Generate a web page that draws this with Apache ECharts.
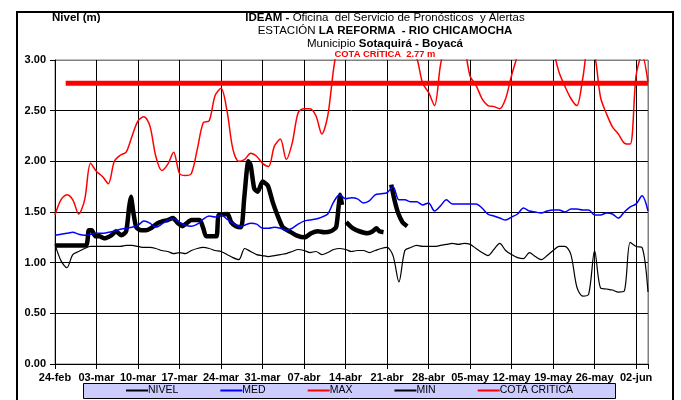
<!DOCTYPE html>
<html>
<head>
<meta charset="utf-8">
<script src="https://cdn.jsdelivr.net/npm/echarts@6/dist/echarts.min.js"></script>
<style>
  html, body { margin: 0; padding: 0; background: #fff; }
  #chart { width: 681px; height: 400px; }
</style>
</head>
<body>
<div id="chart"></div>
<script>
// eje x: un dato por día desde 24-feb (día 0) hasta 04-jun (día 100)
const tickLabels = ['24-feb', '03-mar', '10-mar', '17-mar', '24-mar', '31-mar', '07-abr', '14-abr',
  '21-abr', '28-abr', '05-may', '12-may', '19-may', '26-may', '02-jun'];

const medValues = [
  1.27, 1.28, 1.29, 1.30, 1.28, 1.27, 1.28, 1.29, 1.29, 1.30,
  1.31, 1.33, 1.34, 1.35, 1.37, 1.41, 1.39, 1.35, 1.38, 1.42,
  1.43, 1.40, 1.37, 1.36, 1.38, 1.43, 1.46, 1.45, 1.47, 1.43,
  1.39, 1.36, 1.37, 1.39, 1.38, 1.34, 1.34, 1.35, 1.34, 1.32,
  1.34, 1.38, 1.41, 1.42, 1.43, 1.45, 1.48, 1.60, 1.67, 1.63,
  1.64, 1.63, 1.59, 1.61, 1.67, 1.68, 1.69, 1.75, 1.62, 1.62,
  1.60, 1.60, 1.57, 1.59, 1.51, 1.56, 1.62, 1.58, 1.58, 1.58,
  1.58, 1.58, 1.54, 1.48, 1.46, 1.44, 1.42, 1.45, 1.48, 1.54,
  1.51, 1.50, 1.49, 1.51, 1.52, 1.52, 1.50, 1.53, 1.53, 1.52,
  1.52, 1.47, 1.47, 1.49, 1.48, 1.44, 1.50, 1.55, 1.58, 1.66,
  1.51
];

const maxValues = [
  1.47, 1.62, 1.67, 1.62, 1.48, 1.62, 1.98, 1.90, 1.85, 1.78,
  2.00, 2.06, 2.09, 2.25, 2.40, 2.44, 2.35, 2.05, 1.91, 1.97,
  2.09, 1.88, 1.86, 1.88, 2.12, 2.38, 2.40, 2.65, 2.72, 2.50,
  2.12, 2.00, 2.02, 2.08, 2.05, 1.98, 1.95, 2.15, 2.22, 2.02,
  2.18, 2.48, 2.52, 2.52, 2.45, 2.27, 2.45, 2.92, 3.25, 3.40,
  3.50, 3.60, 3.60, 3.55, 3.50, 3.45, 3.40, 3.35, 3.30, 3.20,
  3.10, 3.02, 2.77, 2.68, 2.55, 2.95, 3.20, 3.30, 3.30, 3.15,
  2.84, 2.75, 2.62, 2.55, 2.54, 2.52, 2.62, 2.85, 3.05, 3.30,
  3.45, 3.50, 3.45, 3.30, 3.10, 2.88, 2.74, 2.62, 2.55, 2.82,
  3.15, 3.05, 2.63, 2.47, 2.34, 2.27, 2.18, 2.17, 2.85, 3.05,
  2.78
];

const minValues = [
  1.18, 1.02, 0.95, 1.08, 1.11, 1.14, 1.16, 1.16, 1.16, 1.16,
  1.16, 1.16, 1.17, 1.17, 1.16, 1.15, 1.15, 1.14, 1.12, 1.11,
  1.09, 1.10, 1.09, 1.12, 1.14, 1.15, 1.14, 1.12, 1.11, 1.08,
  1.05, 1.03, 1.14, 1.11, 1.08, 1.07, 1.06, 1.07, 1.08, 1.09,
  1.11, 1.13, 1.12, 1.10, 1.11, 1.08, 1.10, 1.13, 1.14, 1.13,
  1.11, 1.12, 1.12, 1.10, 1.12, 1.14, 1.15, 1.07, 0.81, 1.12,
  1.15, 1.17, 1.16, 1.16, 1.16, 1.17, 1.18, 1.19, 1.18, 1.19,
  1.18, 1.14, 1.10, 1.07, 1.13, 1.19, 1.12, 1.08, 1.05, 1.04,
  1.10, 1.06, 1.03, 1.07, 1.12, 1.16, 1.16, 1.08, 0.76, 0.67,
  0.69, 1.12, 0.75, 0.74, 0.73, 0.71, 0.72, 1.20, 1.16, 1.15,
  0.71
];

// NIVEL observado: días fraccionarios, null = hueco sin dato
const nivelDays = [0, 5.2, 5.7, 6.2, 6.8, 7.5, 8.3, 9.5, 10.3, 11.2,
  12.0, 12.5, 12.8, 13.2, 13.7, 14.5, 15.4, 16.2, 17.3, 18.2,
  19.0, 19.9, 20.7, 21.5, 22.2, 23.0, 24.4, 25.0, 25.5, 27.2,
  27.6, 29.1, 29.7, 30.5, 31.4, 31.9, 32.6, 33.0, 33.6, 34.2,
  35.0, 35.9, 36.7, 37.5, 38.4, 39.5, 40.7, 42.1, 43.2, 44.3,
  45.4, 46.5, 47.4, 47.8, 48.1, 48.4, 48.7, 49.1, 50.2, 51.3,
  52.7, 53.6, 54.2, 54.7, 55.4, 56.0, 56.7, 57.2, 57.8, 58.6, 59.4];
const nivelValues = [1.17, 1.17, 1.32, 1.32, 1.26, 1.26, 1.24, 1.27, 1.31, 1.27,
  1.31, 1.55, 1.65, 1.50, 1.35, 1.32, 1.32, 1.34, 1.39, 1.41,
  1.42, 1.44, 1.39, 1.36, 1.39, 1.42, 1.42, 1.34, 1.26, 1.26,
  1.47, 1.48, 1.40, 1.36, 1.35, 1.63, 2.00, 1.96, 1.73, 1.70,
  1.80, 1.76, 1.60, 1.47, 1.35, 1.31, 1.27, 1.25, 1.29, 1.31,
  1.30, 1.31, 1.35, 1.54, 1.67, 1.57, null, 1.40, 1.34, 1.31,
  1.29, 1.31, 1.34, 1.31, 1.30, null, 1.77, 1.63, 1.50, 1.40, 1.36];

const cotaDays = [1.8, 100];
const cotaValues = [2.77, 2.77];

const FONT = "'Liberation Sans', Arial, sans-serif";
const byDay = arr => arr.map((v, i) => [i, v]);
const pairs = (xs, ys) => xs.map((x, i) => [x, ys[i]]);

const chart = echarts.init(document.getElementById('chart'));

const titleRich = { b: { fontFamily: FONT, fontSize: 11.5, fontWeight: 'bold' } };

const option = {
  animation: false,
  backgroundColor: '#fff',
  grid: {
    left: 55, right: 33, top: 60, bottom: 36,
    show: true, borderColor: '#808080', borderWidth: 1,
    containLabel: false, outerBoundsMode: 'none'
  },
  xAxis: {
    type: 'value', min: 0, max: 100, interval: 7,
    axisLine: { show: true, onZero: false, lineStyle: { color: '#000', width: 1 } },
    axisTick: { show: true, length: 5, lineStyle: { color: '#000' } },
    axisLabel: {
      margin: 8, color: '#000', fontFamily: FONT, fontSize: 11, fontWeight: 'bold',
      formatter: v => (v % 7 === 0 && tickLabels[v / 7]) ? tickLabels[v / 7] : ''
    },
    splitLine: {
      show: true,
      lineStyle: { width: 1, color: ['#000', '#000', '#000', '#000', '#000', '#000', '#000', '#000',
        '#000', '#000', '#000', '#000', '#000', '#000', '#000', '#808080'] }
    }
  },
  yAxis: {
    type: 'value', min: 0, max: 3, interval: 0.5,
    axisLine: { show: true, lineStyle: { color: '#000', width: 1 } },
    axisTick: { show: true, length: 5, lineStyle: { color: '#000' } },
    axisLabel: {
      margin: 9, color: '#000', fontFamily: FONT, fontSize: 11, fontWeight: 'bold',
      formatter: v => v.toFixed(2)
    },
    splitLine: {
      show: true,
      lineStyle: { width: 1, color: ['#000', '#000', '#000', '#000', '#000', '#000', '#808080'] }
    }
  },
  legend: {
    left: 125, top: 385, padding: 0,
    itemGap: 41, itemWidth: 22, itemHeight: 12,
    selectedMode: false,
    itemStyle: { opacity: 0, borderWidth: 0 },
    textStyle: { fontFamily: FONT, fontSize: 10.5, color: '#000', padding: [0, 0, 0, -5] },
    data: ['NIVEL', 'MED', 'MAX', 'MIN', 'COTA CRITICA']
  },
  graphic: [
    { type: 'rect', silent: true, z: 0,
      shape: { x: 17, y: 12, width: 656, height: 400 },
      style: { fill: 'none', stroke: '#000', lineWidth: 2 } },
    { type: 'rect', silent: true, z: 0,
      shape: { x: 83.5, y: 383.5, width: 532, height: 15 },
      style: { fill: '#ccccff', stroke: '#000', lineWidth: 1 } },
    { type: 'text', silent: true, x: 52, y: 18,
      style: { text: 'Nivel (m)', fill: '#000', fontFamily: FONT, fontSize: 11.5, fontWeight: 'bold',
        align: 'left', verticalAlign: 'middle' } },
    { type: 'text', silent: true, x: 385, y: 18,
      style: { text: '{b|IDEAM -} Oficina  del Servicio de Pronósticos  y Alertas',
        fill: '#000', fontFamily: FONT, fontSize: 11.5, align: 'center', verticalAlign: 'middle',
        rich: titleRich } },
    { type: 'text', silent: true, x: 385, y: 31,
      style: { text: 'ESTACIÓN {b|LA REFORMA  - RIO CHICAMOCHA}',
        fill: '#000', fontFamily: FONT, fontSize: 11.5, align: 'center', verticalAlign: 'middle',
        rich: titleRich } },
    { type: 'text', silent: true, x: 385, y: 44,
      style: { text: 'Municipio {b|Sotaquirá - Boyacá}',
        fill: '#000', fontFamily: FONT, fontSize: 11.5, align: 'center', verticalAlign: 'middle',
        rich: titleRich } },
    { type: 'text', silent: true, x: 385, y: 54,
      style: { text: 'COTA CRÍTICA  2.77 m', fill: '#ff0000', fontFamily: FONT, fontSize: 9.4,
        fontWeight: 'bold', align: 'center', verticalAlign: 'middle' } }
  ],
  series: [
    { name: 'NIVEL', type: 'line', data: pairs(nivelDays, nivelValues), symbol: 'none',
      smooth: 0.2, connectNulls: false, lineStyle: { color: '#000', width: 4.5 }, itemStyle: { color: '#000' } },
    { name: 'MED', type: 'line', data: byDay(medValues), symbol: 'none', smooth: 0.3,
      lineStyle: { color: '#0000ff', width: 1.5 }, itemStyle: { color: '#0000ff' } },
    { name: 'MAX', type: 'line', data: byDay(maxValues), symbol: 'none', smooth: 0.3,
      lineStyle: { color: '#ff0000', width: 1.5 }, itemStyle: { color: '#ff0000' } },
    { name: 'MIN', type: 'line', data: byDay(minValues), symbol: 'none', smooth: 0.3,
      lineStyle: { color: '#000', width: 1.2 }, itemStyle: { color: '#000' } },
    { name: 'COTA CRITICA', type: 'line', data: pairs(cotaDays, cotaValues), symbol: 'none',
      lineStyle: { color: '#ff0000', width: 5 }, itemStyle: { color: '#ff0000' } }
  ]
};

chart.setOption(option);
</script>
</body>
</html>
